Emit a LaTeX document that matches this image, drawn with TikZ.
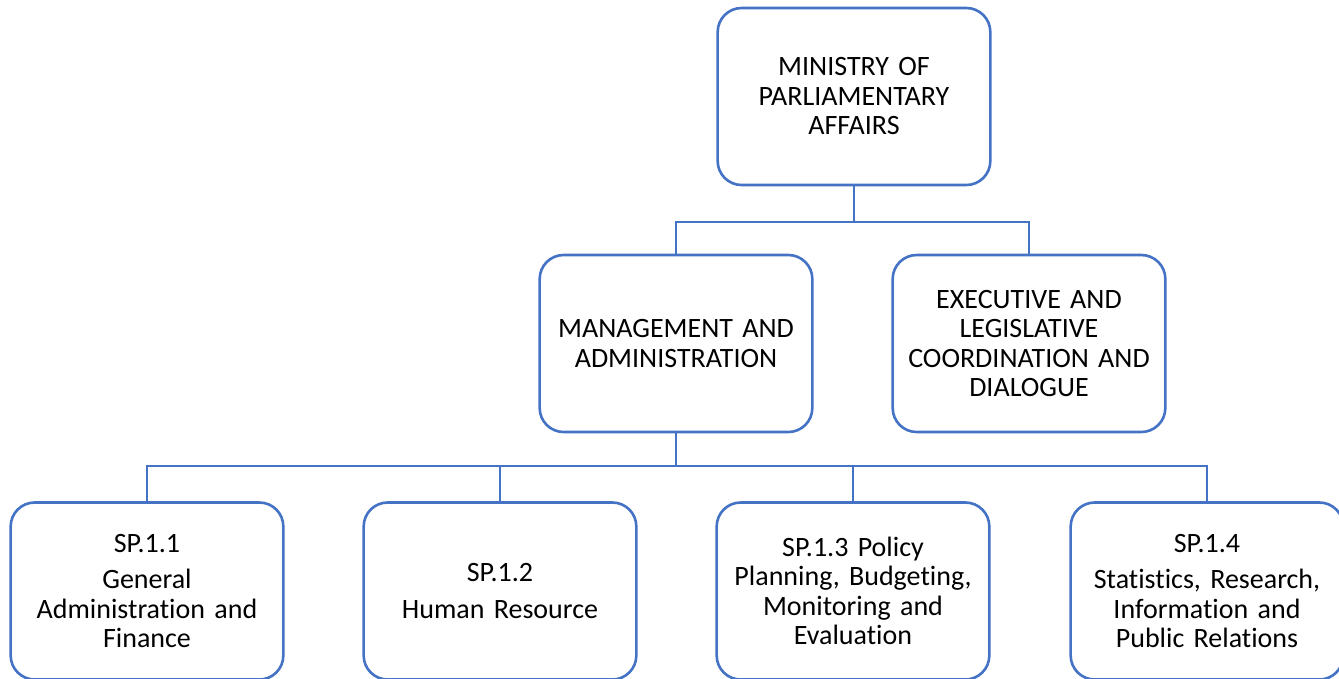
\documentclass[tikz,border=0pt]{standalone}
\usepackage{fontspec}
\setmainfont{Carlito}[Ligatures=NoCommon,WordSpace=0.8]
\definecolor{boxblue}{RGB}{68,114,196}
\begin{document}
\begin{tikzpicture}[
    x=1pt,y=-1pt,
    unit/.style={
        draw=boxblue,
        line width=2.6pt,
        rounded corners=24pt,
        fill=white,
        minimum width=272pt,
        minimum height=177pt,
        text width=266pt,
        align=center,
        font=\fontsize{28}{29.5}\selectfont
    },
    link/.style={
        draw=boxblue,
        line width=2.6pt
    }
    ]
\useasboundingbox (0,0) rectangle (1339,678);
\clip (0,0) rectangle (1339,678);

  % ministry and programmes
  \node[unit] (ministry) at (854,96.5) {MINISTRY OF\\PARLIAMENTARY\\AFFAIRS};
  \node[unit] (mgmt) at (676,343.5) {MANAGEMENT AND\\ADMINISTRATION};
  \node[unit] (exec) at (1029,343.5) {EXECUTIVE AND\\LEGISLATIVE\\COORDINATION AND\\DIALOGUE};

  % sub-programmes
  \node[unit] (sp1) at (147,591) {SP.1.1\\[7pt]General\\Administration and\\Finance};
  \node[unit] (sp2) at (500,591) {SP.1.2\\[7pt]Human Resource};
  \node[unit] (sp3) at (853,591) {SP.1.3 Policy\\Planning, Budgeting,\\Monitoring and\\Evaluation};
  \node[unit] (sp4) at (1207,591) {SP.1.4\\[7pt]Statistics, Research,\\Information and\\Public Relations};

  \coordinate (bus1) at (854,222);
  \coordinate (bus2) at (676,466);

  \draw[link] (ministry.south) -- (bus1);
  \draw[link] (bus1) -| (mgmt.north);
  \draw[link] (bus1) -| (exec.north);

  \draw[link] (mgmt.south) -- (bus2);
  \draw[link] (bus2) -| (sp1.north);
  \draw[link] (bus2) -| (sp2.north);
  \draw[link] (bus2) -| (sp3.north);
  \draw[link] (bus2) -| (sp4.north);
\end{tikzpicture}
\end{document}
